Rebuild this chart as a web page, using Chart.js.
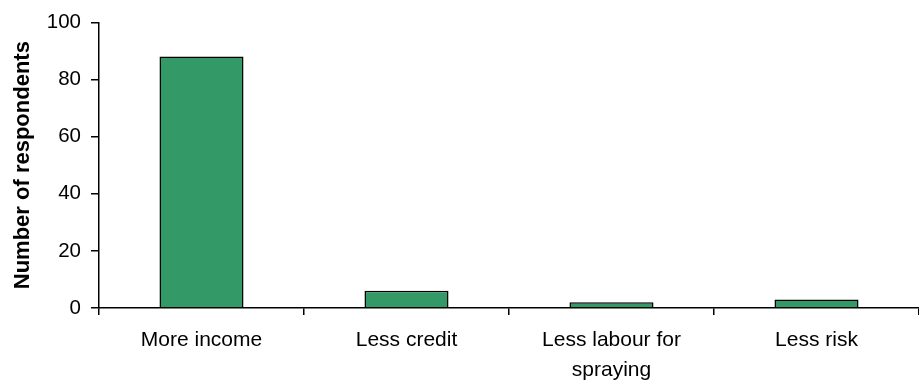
<!DOCTYPE html>
<html>
<head>
<meta charset="utf-8">
<script src="https://cdn.jsdelivr.net/npm/chart.js@4"></script>
<style>
  html, body { margin: 0; padding: 0; background: #fff; }
  .chart-container { width: 919px; height: 383px; }
</style>
</head>
<body>
<div class="chart-container"><canvas id="myChart"></canvas></div>
<script>
const categories = ['More income', 'Less credit', ['Less labour for', 'spraying'], 'Less risk'];
const respondents = [88, 6, 2, 3];
const yTicks = [0, 20, 40, 60, 80, 100];

Chart.defaults.font.family = '"Liberation Sans", Arial, sans-serif';
Chart.defaults.color = '#000';

const ctx = document.getElementById('myChart');

const respondentsChart = new Chart(ctx, {
  type: 'bar',
  data: {
    labels: categories,
    datasets: [
      {
        data: respondents,
        backgroundColor: '#339966',
        borderColor: '#000',
        borderWidth: 1.5,
        categoryPercentage: 1,
        barPercentage: 0.41,
      }
    ]
  },
  options: {
    responsive: true,
    maintainAspectRatio: false,
    animation: false,
    layout: { padding: { top: 20, right: 0, left: 0, bottom: 0 } },
    plugins: {
      legend: { display: false },
      tooltip: { enabled: false }
    },
    scales: {
      x: {
        afterFit: (scale) => { scale.height = 75; },
        grid: { offset: true, drawOnChartArea: false, drawTicks: true, tickLength: 7, color: '#000', lineWidth: 1.5 },
        border: { color: '#000', width: 1.5 },
        ticks: { font: { size: 21, lineHeight: 1.43 }, padding: 10, maxRotation: 0, autoSkip: false }
      },
      y: {
        min: 0,
        max: 100,
        afterBuildTicks: (axis) => { axis.ticks = yTicks.map(v => ({ value: v })); },
        afterFit: (scale) => { scale.width = 99; },
        grid: { drawOnChartArea: false, drawTicks: true, tickLength: 8, color: '#000', lineWidth: 1.5 },
        border: { color: '#000', width: 1.5 },
        ticks: { font: { size: 20.5 }, padding: 10 },
        title: {
          display: true,
          text: 'Number of respondents',
          font: { size: 22, weight: 'bold' },
          padding: { top: 10, bottom: 0 }
        }
      }
    }
  }
});
</script>
</body>
</html>
